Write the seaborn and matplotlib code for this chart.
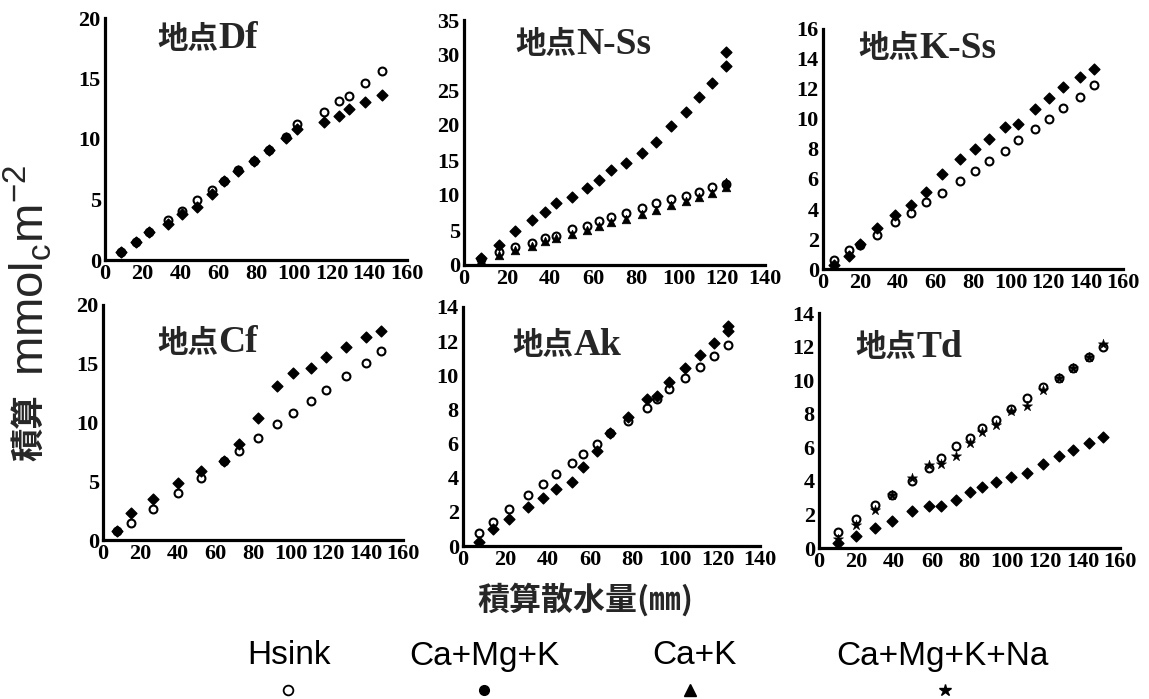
import matplotlib
matplotlib.use("Agg")
import matplotlib.pyplot as plt
from matplotlib import font_manager
from matplotlib.ticker import MultipleLocator
import seaborn as sns

# ---------------- data ----------------
TITLES = ["地点", "地点", "地点", "地点", "地点", "地点"]
SITES = ["Df", "N-Ss", "K-Ss", "Cf", "Ak", "Td"]
SERIES = ["Hsink", "Ca+Mg+K", "Ca+K", "Ca+Mg+K+Na"]

DF_X = [8.5, 16.4, 23.5, 33.2, 40.7, 48.8, 56.8, 63.3, 70.7, 78.7, 87.0, 95.8,
        101.7, 115.8, 123.8, 129.1, 137.9, 146.7]
DF_HSINK = [0.70, 1.50, 2.35, 3.31, 4.08, 4.97, 5.79, 6.55, 7.40, 8.22, 9.12,
            10.20, 11.20, 12.20, 13.16, 13.57, 14.62, 15.59]
DF_CAMGK = [0.63, 1.46, 2.29, 2.98, 3.78, 4.41, 5.43, 6.54, 7.39, 8.19, 9.10,
            10.12, 10.81, 11.39, 11.94, 12.47, 13.02, 13.66]

NSS_X = [8.1, 16.1, 23.9, 31.8, 37.9, 42.7, 50.3, 57.0, 62.7, 68.3, 75.3, 82.9,
         89.2, 96.4, 103.1, 109.4, 115.5, 121.8]
NSS_HSINK = [0.8, 1.8, 2.6, 3.2, 3.8, 4.2, 5.1, 5.6, 6.3, 6.8, 7.5, 8.1, 8.8,
             9.4, 9.9, 10.5, 11.1, 11.6]
NSS_CAMGK_X = [8.1, 16.1, 23.9, 31.8, 37.9, 42.7, 50.3, 57.0, 62.7, 68.3, 75.3,
               82.9, 89.2, 96.4, 103.1, 109.4, 115.5, 121.8, 121.8]
NSS_CAMGK = [0.97, 2.90, 4.83, 6.37, 7.63, 8.84, 9.75, 10.96, 12.17, 13.52,
             14.63, 15.93, 17.62, 19.85, 21.92, 23.95, 26.03, 28.49, 30.42]
NSS_CAK_X = [8.1, 16.1, 23.9, 31.8, 37.9, 42.7, 50.3, 57.0, 62.7, 68.3, 75.3,
             82.9, 89.2, 96.4, 103.1, 109.4, 115.5, 121.8, 121.8]
NSS_CAK = [0.7, 1.5, 2.2, 2.7, 3.4, 3.9, 4.5, 5.0, 5.6, 6.1, 6.6, 7.3, 7.9, 8.6,
           9.2, 9.7, 10.3, 11.1, 11.8]

KSS_X = [5.7, 13.9, 19.9, 28.8, 38.6, 47.1, 54.8, 63.6, 72.9, 81.2, 88.4, 97.2,
         104.0, 113.2, 120.4, 128.0, 136.9, 144.5]
KSS_HSINK = [0.62, 1.24, 1.62, 2.29, 3.11, 3.73, 4.44, 5.07, 5.84, 6.56, 7.22,
             7.89, 8.62, 9.36, 10.02, 10.73, 11.47, 12.29]
KSS_CAMGK = [0.29, 0.84, 1.67, 2.73, 3.58, 4.29, 5.13, 6.36, 7.33, 8.02, 8.69,
             9.47, 9.69, 10.69, 11.40, 12.13, 12.78, 13.33]

CF_X = [7.5, 15.1, 26.7, 40.0, 52.1, 64.4, 72.4, 82.7, 93.0, 101.3, 110.8,
        119.1, 129.8, 140.1, 148.4]
CF_HSINK = [0.80, 1.48, 2.61, 4.03, 5.30, 6.75, 7.57, 8.71, 9.87, 10.78, 11.83,
            12.77, 13.99, 15.09, 16.09]
CF_CAMGK = [0.79, 2.27, 3.49, 4.82, 5.90, 6.75, 8.14, 10.35, 13.13, 14.18,
            14.61, 15.55, 16.40, 17.30, 17.82]

AK_X = [7.6, 14.2, 21.7, 30.7, 37.8, 43.7, 51.4, 56.6, 63.4, 69.2, 77.9, 86.5,
        91.6, 97.1, 104.6, 111.7, 118.3, 125.1]
AK_HSINK = [0.78, 1.42, 2.16, 2.98, 3.61, 4.19, 4.87, 5.36, 5.97, 6.59, 7.31,
            8.11, 8.64, 9.18, 9.87, 10.49, 11.13, 11.76]
AK_CAMGK_X = [7.6, 14.2, 21.7, 30.7, 37.8, 43.7, 51.4, 56.6, 63.4, 69.2, 77.9,
              86.5, 91.6, 97.1, 104.6, 111.7, 118.3, 125.1, 125.1]
AK_CAMGK = [0.25, 0.97, 1.58, 2.26, 2.79, 3.33, 3.76, 4.60, 5.56, 6.59, 7.53,
            8.64, 8.77, 9.61, 10.45, 11.21, 11.91, 12.60, 12.87]

TD_X = [10.1, 19.9, 30.0, 39.0, 49.5, 58.4, 64.7, 72.7, 80.2, 86.4, 94.0,
        101.8, 110.3, 119.2, 127.7, 135.2, 143.7, 150.8]
TD_HSINK = [0.93, 1.73, 2.58, 3.18, 3.97, 4.77, 5.36, 6.10, 6.55, 7.15, 7.64,
            8.28, 8.94, 9.57, 10.13, 10.72, 11.36, 11.95]
TD_CAMGK = [0.30, 0.73, 1.19, 1.63, 2.18, 2.52, 2.52, 2.84, 3.34, 3.61, 3.91,
            4.23, 4.47, 5.00, 5.46, 5.86, 6.26, 6.59]
TD_CAMGKNA = [0.55, 1.39, 2.28, 3.18, 4.17, 4.92, 5.00, 5.50, 6.25, 6.91, 7.35,
              8.14, 8.44, 9.43, 10.13, 10.70, 11.36, 12.15]

X_LIMITS = [160, 140, 160, 160, 140, 160]
Y_LIMITS = [20, 35, 16, 20, 14, 14]
Y_STEPS = [5, 5, 2, 5, 2, 2]

X_LABEL = "積算散水量(㎜)"
Y_LABEL_JP = "積算"
Y_LABEL_UNIT = r"mmol$_\mathregular{c}$m$^\mathregular{-2}$"

# ---------------- style ----------------
sns.set_theme(style="white")
available = {f.name for f in font_manager.fontManager.ttflist}
SERIF = "Liberation Serif"
SANS = "Liberation Sans"
NARROW = "Liberation Sans Narrow" if "Liberation Sans Narrow" in available else SANS
CJK = "Noto Sans CJK JP"
plt.rcParams["font.family"] = [SERIF, CJK]
plt.rcParams["axes.unicode_minus"] = False

W, H = 1149, 699
fig = plt.figure(figsize=(W / 100, H / 100), dpi=100)
fig.patch.set_facecolor("white")

# axes boxes in pixels: left, top, right, bottom
BOXES = [(105, 18, 407, 260), (464, 20, 765, 265), (823, 29, 1123, 269),
         (103, 305, 403, 540), (463, 307, 760, 546), (819, 313, 1120, 548)]
TITLE_POS = [(0.175, 0.915), (0.17, 0.90), (0.117, 0.92),
             (0.18, 0.84), (0.166, 0.84), (0.12, 0.855)]

OPEN = dict(marker="o", s=32, facecolor="white", edgecolor="black",
            linewidth=1.5, zorder=3)
FILLED = dict(marker="D", s=30, color="black", edgecolor="black",
              linewidth=1.0, zorder=4)
TRI = dict(marker="^", s=38, color="black", edgecolor="black",
           linewidth=0.5, zorder=4)
STAR = dict(marker="*", s=60, color="black", edgecolor="black",
            linewidth=0.3, zorder=4)

panels = [
    [(DF_X, DF_HSINK, OPEN), (DF_X, DF_CAMGK, FILLED)],
    [(NSS_X, NSS_HSINK, OPEN), (NSS_CAK_X, NSS_CAK, TRI),
     (NSS_CAMGK_X, NSS_CAMGK, FILLED)],
    [(KSS_X, KSS_HSINK, OPEN), (KSS_X, KSS_CAMGK, FILLED)],
    [(CF_X, CF_HSINK, OPEN), (CF_X, CF_CAMGK, FILLED)],
    [(AK_X, AK_HSINK, OPEN), (AK_CAMGK_X, AK_CAMGK, FILLED)],
    [(TD_X, TD_HSINK, OPEN), (TD_X, TD_CAMGKNA, STAR), (TD_X, TD_CAMGK, FILLED)],
]

for i, (box, series) in enumerate(zip(BOXES, panels)):
    l, t, r, b = box
    ax = fig.add_axes([l / W, 1 - b / H, (r - l) / W, (b - t) / H])
    ax.set_facecolor("none")
    for xs, ys, kw in series:
        sns.scatterplot(x=xs, y=ys, ax=ax, legend=False, **kw)
    ax.set_xlim(0, X_LIMITS[i])
    ax.set_ylim(0, Y_LIMITS[i])
    ax.xaxis.set_major_locator(MultipleLocator(20))
    ax.xaxis.set_minor_locator(MultipleLocator(10))
    ax.yaxis.set_major_locator(MultipleLocator(Y_STEPS[i]))
    for side in ("top", "right"):
        ax.spines[side].set_visible(False)
    for side in ("left", "bottom"):
        ax.spines[side].set_linewidth(2.3)
        ax.spines[side].set_color("black")
    ax.tick_params(which="both", direction="in", length=4, width=1.8,
                   color="black", pad=3)
    ax.tick_params(axis="both", labelsize=16, labelcolor="black")
    for lab in ax.get_xticklabels() + ax.get_yticklabels():
        lab.set_fontfamily(SERIF)
        lab.set_fontweight("bold")
    ax.set_xlabel("")
    ax.set_ylabel("")
    tx, ty = TITLE_POS[i]
    jp = ax.text(tx, ty, TITLES[i], transform=ax.transAxes, ha="left",
                 va="center", fontsize=22, fontweight="bold", family=[CJK])
    ax.annotate(SITES[i], xy=(1.0, 0.5), xycoords=jp, ha="left", va="center",
                fontsize=27, fontweight="bold", family=[SERIF])

# axis titles
fig.text(585 / W, 1 - 600 / H, X_LABEL, ha="center", va="center",
         fontsize=23, fontweight="bold", family=[CJK, SANS])
fig.text(30 / W, 1 - 428 / H, Y_LABEL_JP, rotation=90, ha="center",
         va="center", fontsize=24, fontweight="bold", family=[CJK])
fig.text(28 / W, 1 - 270 / H, Y_LABEL_UNIT, rotation=90, ha="center",
         va="center", fontsize=34, family=[NARROW])

# series key: label above its marker
key = fig.add_axes([0, 0, 1, 1])
key.set_xlim(0, W)
key.set_ylim(H, 0)
key.axis("off")
KEY_TEXT_X = [289, 484, 694, 942]
KEY_MARK_X = [288, 484, 690, 945]
KEY_MARKS = [dict(marker="o", markersize=7, markerfacecolor="white",
                  markeredgecolor="black", markeredgewidth=1.3),
             dict(marker="o", markersize=7, markerfacecolor="black",
                  markeredgecolor="black"),
             dict(marker="^", markersize=8, markerfacecolor="black",
                  markeredgecolor="black"),
             dict(marker="*", markersize=9, markerfacecolor="black",
                  markeredgecolor="black")]
for name, tx, mx, mk in zip(SERIES, KEY_TEXT_X, KEY_MARK_X, KEY_MARKS):
    key.text(tx, 656, name, ha="center", va="center", fontsize=24,
             family=[NARROW], color="black")
    key.plot([mx], [690], linestyle="none", **mk)

fig.savefig("out.png", dpi=100, facecolor="white")
